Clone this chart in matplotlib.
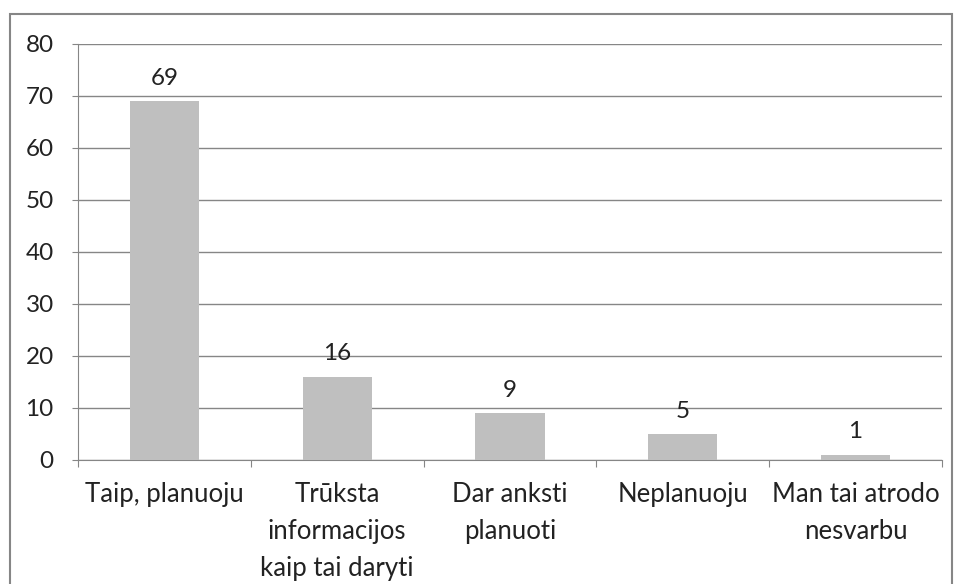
import matplotlib
matplotlib.use('Agg')

import matplotlib.pyplot as plt
from matplotlib.patches import Rectangle
import numpy as np

categories = ['Taip, planuoju', 'Trūksta\ninformacijos\nkaip tai daryti',
              'Dar anksti\nplanuoti', 'Neplanuoju', 'Man tai atrodo\nnesvarbu']
values = [69, 16, 9, 5, 1]
yticks = [0, 10, 20, 30, 40, 50, 60, 70, 80]


def main():
    plt.rcParams['font.family'] = ['Lato', 'DejaVu Sans']
    fig = plt.figure(figsize=(9.6, 5.84), dpi=100)
    ax = fig.add_axes([78 / 960, 124 / 584, 864 / 960, 416 / 584])

    x = np.arange(len(values))
    ax.bar(x, values, width=0.4, color='#bfbfbf', zorder=3)
    for xi, v in zip(x, values):
        ax.annotate(str(v), (xi, v), xytext=(0, 9), textcoords='offset points',
                    ha='center', va='bottom', fontsize=17.5, color='#222222')

    ax.set_xlim(-0.5, len(values) - 0.5)
    ax.set_ylim(0, 80)
    ax.set_yticks(yticks)
    ax.yaxis.grid(True, color='#868686', linewidth=1, zorder=0)

    ax.set_xticks(np.arange(len(values) + 1) - 0.5)
    ax.set_xticklabels([])
    ax.set_xticks(x, minor=True)
    ax.set_xticklabels(categories, minor=True, fontsize=18.5, color='#222222',
                       linespacing=1.6)
    ax.tick_params(axis='x', which='major', length=5, color='#868686')
    ax.tick_params(axis='x', which='minor', length=0, pad=16)
    ax.tick_params(axis='y', length=4.5, color='#868686', labelsize=17.5,
                   labelcolor='#222222', pad=13)
    for side in ['top', 'right']:
        ax.spines[side].set_visible(False)
    for side in ['left', 'bottom']:
        ax.spines[side].set_color('#868686')

    fig.patches.append(Rectangle((10 / 960, -0.05), 942 / 960, 1.05 - 14 / 584,
                                 transform=fig.transFigure, fill=False,
                                 edgecolor='#868686', linewidth=1.5))
    fig.savefig('out.png', dpi=100)


if __name__ == '__main__':
    main()
